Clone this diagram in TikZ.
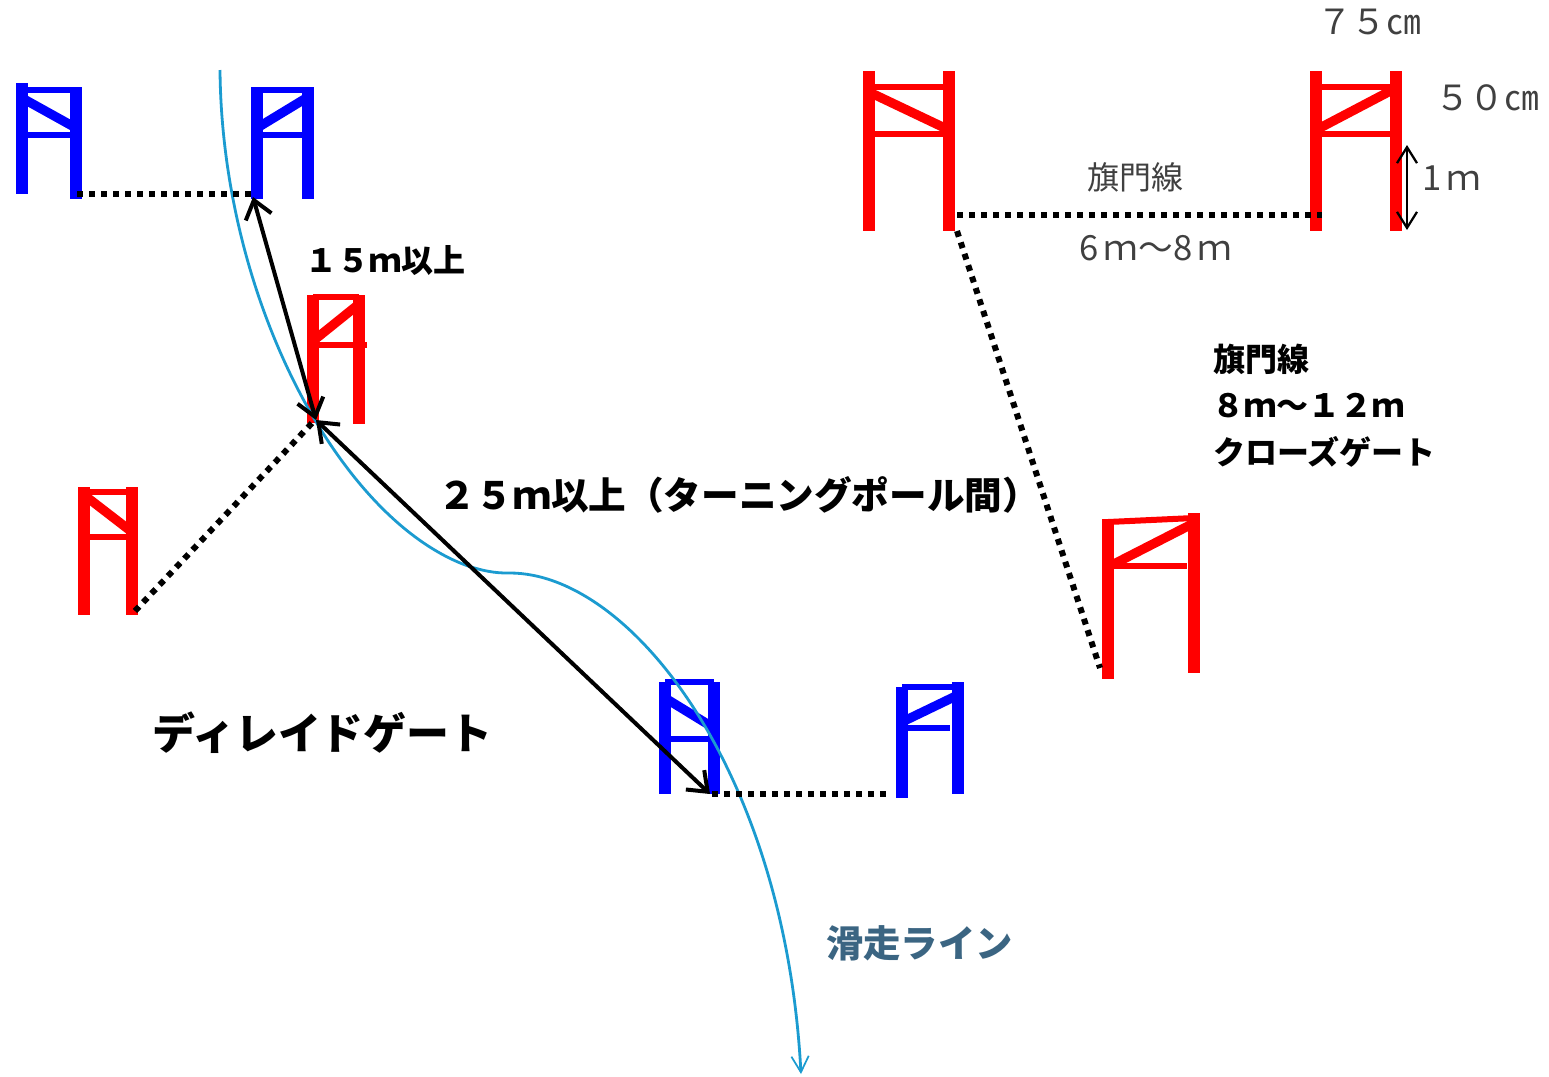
\documentclass[tikz,border=0pt]{standalone}
\usepackage{fontspec}
\setmainfont{Noto Sans CJK JP}
\usetikzlibrary{arrows.meta}
\definecolor{lineblue}{HTML}{1B9BD0}
\definecolor{labelblue}{HTML}{3B6582}
\definecolor{labelgray}{HTML}{404040}
\tikzset{
  post/.style={line width=9pt},
  rail/.style={line width=4.5pt},
  brace/.style={line width=7pt},
  gateline/.style={line width=4.5pt,dash pattern=on 4.5pt off 4.5pt},
  span/.style={<->,line width=3pt,>={Straight Barb[length=13pt,width=20pt,line width=3pt]}},
  ruler/.style={<->,line width=1.7pt,>={Straight Barb[length=12pt,width=15pt]}},
  skiline/.style={->,lineblue,line width=2.1pt,>={Straight Barb[length=12pt,width=13pt,line width=1.3pt]}},
  graytext/.style={labelgray,font=\fontsize{26}{26}\selectfont,inner sep=0pt},
  blacktext/.style={font=\fontsize{24}{24}\selectfont\bfseries,inner sep=0pt,anchor=west}
}
\begin{document}
\begin{tikzpicture}[x=0.75pt,y=-0.75pt]
  \useasboundingbox (0,0) rectangle (1549,1076);
  % gates: colour / posts x / left post y / right post y / top rail y / mid rail y / brace y / rail end
  \foreach \col/\xa/\xb/\ya/\yb/\yc/\yd/\ta/\tb/\mid/\da/\db/\ex in {
    blue/22/76/83/194/87/199/90/90/135/98/128/76,
    blue/257/308/87/199/87/199/90/90/135/128/97/308,
    red/313/359/295/423/295/424/297/297/345/341/304/367,
    red/84/132/487/615/487/615/492/492/537/495/532/132,
    blue/665/714/682/794/682/794/682/682/739/698/728/714,
    blue/902/958/687/798/682/794/687/687/728/722/695/950,
    red/869/949/71/231/71/231/87/87/134/92/130/949,
    red/1316/1396/71/231/71/231/87/87/134/130/88/1396,
    red/1108/1194/519/679/513/673/522/518/566/567/523/1187}{
    \draw[post,\col] (\xa,\ya) -- (\xa,\yb);
    \draw[post,\col] (\xb,\yc) -- (\xb,\yd);
    \draw[rail,\col] (\xa,\ta) -- (\xb,\tb);
    \draw[rail,\col] (\xa,\mid) -- (\ex,\mid);
    \draw[brace,\col] (\xa,\da) -- (\xb,\db);
  }
  \coordinate (blueAfoot) at (77,194);
  \coordinate (blueBfoot) at (251,194);
  \coordinate (blueBtip) at (253,197);
  \coordinate (redAfoot) at (316,420);
  \coordinate (redBfoot) at (135,611);
  \coordinate (redBend) at (313,422);
  \coordinate (blueCfoot) at (710,794);
  \coordinate (blueCstart) at (712,794);
  \coordinate (blueDfoot) at (887,794);
  \coordinate (redCfoot) at (957,215);
  \coordinate (redClow) at (957,231);
  \coordinate (redDfoot) at (1322,215);
  \coordinate (redEfoot) at (1100,668);
  \coordinate (rulerTop) at (1407,145);
  \coordinate (rulerBot) at (1407,230);
  \coordinate (lineStart) at (220,70);
  \coordinate (lineEnd) at (801,1074);
  \draw[skiline] (lineStart) .. controls (222,300) and (340,520) .. (468,566)
    .. controls (490,573) and (500,573) .. (510,573)
    .. controls (630,573) and (785,770) .. (lineEnd);
  \draw[gateline] (blueAfoot) -- (blueBfoot);
  \draw[gateline] (redBfoot) -- (redBend);
  \draw[gateline] (blueCstart) -- (blueDfoot);
  \draw[gateline] (redCfoot) -- (redDfoot);
  \draw[gateline] (redClow) -- (redEfoot);
  \draw[span] (redAfoot) -- (blueBtip);
  \draw[span] (redAfoot) -- (blueCfoot);
  \draw[ruler] (rulerTop) -- (rulerBot);
  \node[graytext] (topwidth) at (1369,22) {７５㎝};
  \node[graytext] (railgap) at (1487,98) {５０㎝};
  \node[graytext] (height) at (1452,178) {1\hspace{4pt}ｍ};
  \node[graytext,font=\fontsize{24}{24}\selectfont] (flagname) at (1135,177) {旗門線};
  \node[graytext] (flagdist) at (1156,248) {6\hspace{4pt}ｍ～8\hspace{4pt}ｍ};
  \node[blacktext] (shortdist) at (305,261) {１５ｍ以上};
  \node[blacktext,font=\fontsize{28.2}{28}\selectfont\bfseries] (longdist) at (438,495) {２５ｍ以上（ターニングポール間）};
  \node[blacktext] (closeA) at (1213,359) {旗門線};
  \node[blacktext] (closeB) at (1212,406) {８ｍ～１２ｍ};
  \node[blacktext] (closeC) at (1213,452) {クローズゲート};
  \node[blacktext,font=\fontsize{32.2}{32}\selectfont\bfseries] (delay) at (152,733) {ディレイドゲート};
  \node[blacktext,labelblue,font=\fontsize{28}{28}\selectfont\bfseries] (skilabel) at (826,943) {滑走ライン};
\end{tikzpicture}
\end{document}
